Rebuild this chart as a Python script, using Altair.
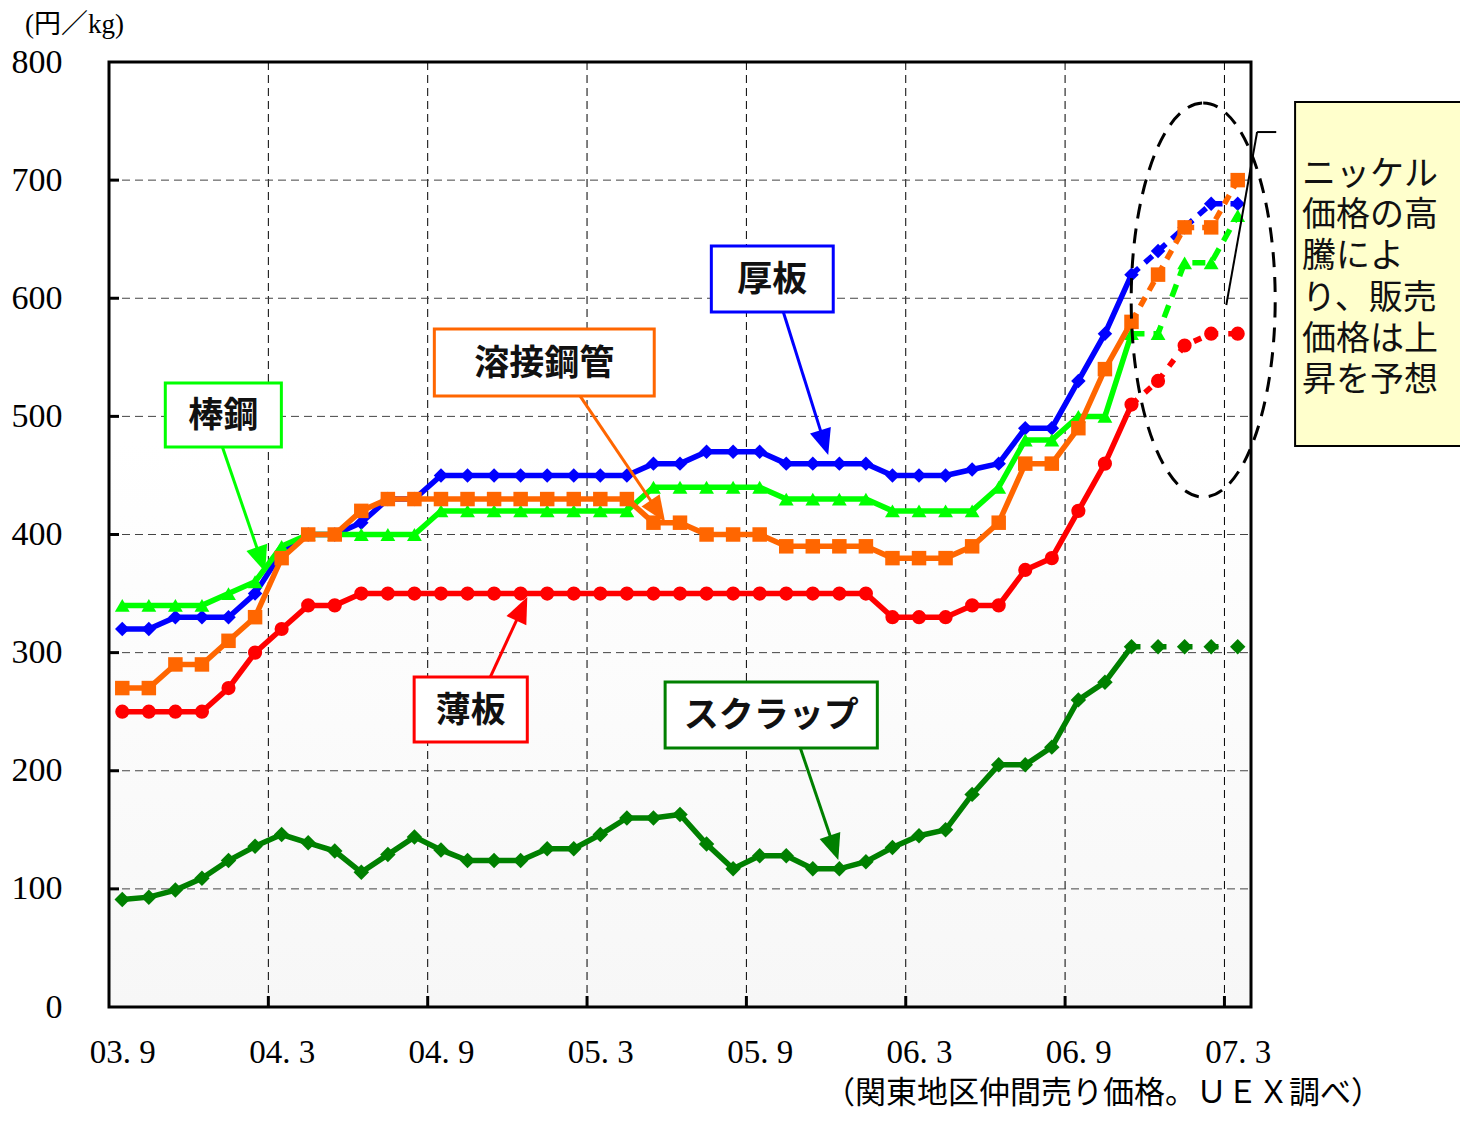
import math
import altair as alt
import pandas as pd

# ---------------- data ----------------
months = [p.strftime("%y.%m") for p in pd.period_range("2003-09", "2007-03", freq="M")]
tick_labels = ["03. 9", "04. 3", "04. 9", "05. 3", "05. 9", "06. 3", "06. 9", "07. 3"]
last_actual = "06.11"   # dashed (forecast) from here on

atsuita = [320, 320, 330, 330, 330, 350, 385, 400, 400, 410, 430, 430, 450, 450, 450, 450,
           450, 450, 450, 450, 460, 460, 470, 470, 470, 460, 460, 460, 460, 450, 450, 450,
           455, 460, 490, 490, 530, 570, 620, 640, 660, 680, 680]
yosetsu = [270, 270, 290, 290, 310, 330, 380, 400, 400, 420, 430, 430, 430, 430, 430, 430,
           430, 430, 430, 430, 410, 410, 400, 400, 400, 390, 390, 390, 390, 380, 380, 380,
           390, 410, 460, 460, 490, 540, 580, 620, 660, 660, 700]
bokou = [340, 340, 340, 340, 350, 360, 390, 400, 400, 400, 400, 400, 420, 420, 420, 420,
         420, 420, 420, 420, 440, 440, 440, 440, 440, 430, 430, 430, 430, 420, 420, 420,
         420, 440, 480, 480, 500, 500, 570, 570, 630, 630, 670]
usuita = [250, 250, 250, 250, 270, 300, 320, 340, 340, 350, 350, 350, 350, 350, 350, 350,
          350, 350, 350, 350, 350, 350, 350, 350, 350, 350, 350, 350, 350, 330, 330, 330,
          340, 340, 370, 380, 420, 460, 510, 530, 560, 570, 570]
scrap = [91, 93, 99, 109, 124, 136, 146, 139, 132, 114, 129, 144, 133, 124, 124, 124,
         134, 134, 146, 160, 160, 163, 138, 117, 128, 128, 117, 117, 123, 135, 145, 150,
         180, 205, 205, 220, 260, 275, 305, 305, 305, 305, 305]

series = {"厚板": atsuita, "溶接鋼管": yosetsu, "棒鋼": bokou, "薄板": usuita, "スクラップ": scrap}
draw_order = ["厚板", "棒鋼", "薄板", "スクラップ", "溶接鋼管"]

y_ticks = [0, 100, 200, 300, 400, 500, 600, 700, 800]
note_lines = ["ニッケル", "価格の高", "騰によ", "り、販売", "価格は上", "昇を予想"]
unit_text = "(円／kg)"
source_text = "（関東地区仲間売り価格。ＵＥＸ調べ）"

# ---------------- styles ----------------
colors = {"厚板": "#0000ff", "溶接鋼管": "#ff6600", "棒鋼": "#00ff00", "薄板": "#ff0000", "スクラップ": "#008000"}
shapes = {"厚板": "diamond", "溶接鋼管": "square", "棒鋼": "triangle-up", "薄板": "circle", "スクラップ": "diamond"}
sizes = {"厚板": 210, "溶接鋼管": 210, "棒鋼": 220, "薄板": 200, "スクラップ": 240}
dashes = {"厚板": [10, 8], "溶接鋼管": [10, 8], "棒鋼": [13, 9], "薄板": [8, 10], "スクラップ": [9, 17]}

W, H = 1142, 945
n = len(months)
X_SCALE = alt.Scale(domain=[-0.5, n - 0.5], nice=False, zero=False)
Y_SCALE = alt.Scale(domain=[0, 800], nice=False, zero=False)
px_x = W / n
px_y = H / 800.0
SERIF = "Liberation Serif, Noto Sans CJK JP"
GOTHIC = "Noto Sans CJK JP"

split = months.index(last_actual)
tick_idx = [i * 6 for i in range(len(tick_labels))]
label_js = "[" + ",".join("'" + t + "'" for t in tick_labels) + "]"

X_AXIS = alt.Axis(values=tick_idx, labelExpr=f"{label_js}[round(datum.value/6)]",
                  labelFont=SERIF, labelFontSize=33, labelColor="black",
                  labelPadding=29, ticks=False, tickSize=0, domain=False,
                  grid=False, labelFlush=False, labelOverlap=False, title=None)
Y_AXIS = alt.Axis(values=y_ticks, labelFont=SERIF, labelFontSize=34, labelColor="black",
                  labelPadding=47, ticks=False, tickSize=0, domain=False, grid=False,
                  labelFlush=False, labelOverlap=False, title=None)

def X(field="idx"):
    return alt.X(f"{field}:Q", scale=X_SCALE, axis=X_AXIS, title=None)

def Y(field="value"):
    return alt.Y(f"{field}:Q", scale=Y_SCALE, axis=Y_AXIS, title=None)

one = pd.DataFrame({"a": [0]})
layers = []

# background
layers.append(alt.Chart(one).mark_rect(
    fill=alt.Gradient(gradient="linear",
                      stops=[alt.GradientStop(color="#ffffff", offset=0),
                             alt.GradientStop(color="#ffffff", offset=0.4),
                             alt.GradientStop(color="#f7f7f7", offset=1)],
                      x1=0, x2=0, y1=0, y2=1)
).encode(x=alt.value(0), x2=alt.value(W), y=alt.value(0), y2=alt.value(H)))

# axes carrier
axis_df = pd.DataFrame({"idx": [0, n - 1], "value": [0, 800]})
layers.append(alt.Chart(axis_df).mark_point(opacity=0).encode(x=X(), y=Y()))

# grid lines
grid_df = pd.DataFrame({"g": [t - 0.5 for t in tick_idx[1:]]})
layers.append(alt.Chart(grid_df).mark_rule(color="black", strokeWidth=1, strokeDash=[8, 5]).encode(
    x=X("g"), y=alt.value(0), y2=alt.value(H)))
layers.append(alt.Chart(grid_df).mark_rule(color="black", strokeWidth=3).encode(
    x=X("g"), y=alt.value(H - 11), y2=alt.value(H)))
ygrid_df = pd.DataFrame({"v": y_ticks[1:-1]})
layers.append(alt.Chart(ygrid_df).mark_rule(color="#444444", strokeWidth=1, strokeDash=[8, 5]).encode(
    y=Y("v"), x=alt.value(0), x2=alt.value(W)))
layers.append(alt.Chart(ygrid_df).mark_rule(color="black", strokeWidth=3).encode(
    y=Y("v"), x=alt.value(0), x2=alt.value(10)))

# series
for name in draw_order:
    vals = series[name]
    df = pd.DataFrame({"idx": list(range(n)), "month": months, "value": vals})
    solid = df[df.idx <= split]
    dashed = df[df.idx >= split]
    c = colors[name]
    layers.append(alt.Chart(solid).mark_line(color=c, strokeWidth=5.5).encode(x=X(), y=Y()))
    layers.append(alt.Chart(dashed).mark_line(color=c, strokeWidth=5.5, strokeDash=dashes[name]).encode(x=X(), y=Y()))
    layers.append(alt.Chart(df).mark_point(filled=True, opacity=1, color=c, shape=shapes[name],
                                           size=sizes[name], strokeWidth=0).encode(x=X(), y=Y()))

# label boxes with arrows (positions in data coordinates: month index, 円/kg)
boxes = pd.DataFrame([
    dict(text="厚板", color="#0000ff", x1=22.18, x2=26.77, y1=588.4, y2=644.2, ax1=24.89, ay1=588.4, ax2=26.58, ay2=467.3),
    dict(text="溶接鋼管", color="#ff6600", x1=11.75, x2=20.03, y1=517.2, y2=574.0, ax1=17.24, ay1=517.2, ax2=20.44, ay2=410.6),
    dict(text="棒鋼", color="#00ff00", x1=1.62, x2=5.99, y1=474.1, y2=528.3, ax1=3.77, ay1=474.1, ax2=5.38, ay2=368.3),
    dict(text="薄板", color="#ff0000", x1=10.99, x2=15.25, y1=224.3, y2=279.4, ax1=13.86, ay1=279.4, ax2=15.25, ay2=347.1),
    dict(text="スクラップ", color="#008000", x1=20.44, x2=28.43, y1=219.3, y2=275.1, ax1=25.53, ay1=219.3, ax2=26.96, ay2=124.4),
])
HEAD = 26.0
ang, bx, by = [], [], []
for _, r in boxes.iterrows():
    dx = (r.ax2 - r.ax1) * px_x
    dy = -(r.ay2 - r.ay1) * px_y
    L = math.hypot(dx, dy)
    ang.append(math.degrees(math.atan2(dx, -dy)) % 360)
    bx.append(r.ax2 - dx / L * HEAD * 0.8 / px_x)
    by.append(r.ay2 + dy / L * HEAD * 0.8 / px_y)
boxes["angle"] = ang
boxes["bx"] = bx
boxes["by"] = by
boxes["tx"] = (boxes.x1 + boxes.x2) / 2
boxes["ty"] = (boxes.y1 + boxes.y2) / 2

layers.append(alt.Chart(boxes).mark_rule(strokeWidth=3).encode(
    x=X("ax1"), y=Y("ay1"), x2="bx:Q", y2="by:Q", color=alt.Color("color:N", scale=None)))
layers.append(alt.Chart(boxes).mark_point(shape="M0,0L0.42,1L-0.42,1Z", filled=True, opacity=1,
                                          size=(2 * HEAD) ** 2, strokeWidth=0).encode(
    x=X("ax2"), y=Y("ay2"), angle=alt.Angle("angle:Q", scale=None), color=alt.Color("color:N", scale=None)))
layers.append(alt.Chart(boxes).mark_rect(fill="white", strokeWidth=3).encode(
    x=X("x1"), x2="x2:Q", y=Y("y1"), y2="y2:Q", stroke=alt.Color("color:N", scale=None)))
layers.append(alt.Chart(boxes).mark_text(font=GOTHIC, fontSize=35, fontWeight="bold", color="#111111",
                                         align="center", baseline="middle", dy=1).encode(
    x=X("tx"), y=Y("ty"), text="text:N"))

# forecast ellipse and leader line
ell = pd.DataFrame({"idx": [40.70], "value": [598.5]})
ry = 197.0
rx = 72.0 / ry
ell_path = f"M0,-1A{rx:.4f},1,0,1,1,0,1A{rx:.4f},1,0,1,1,0,-1Z"
layers.append(alt.Chart(ell).mark_point(shape=ell_path, filled=False, opacity=1, color="black",
                                        strokeWidth=3, strokeDash=[15, 10], size=(2 * ry) ** 2).encode(
    x=X(), y=Y()))
lead = pd.DataFrame({"x1": [42.73, 42.73], "y1": [740.7, 740.7], "x2": [43.45, 41.57], "y2": [740.7, 594.3]})
layers.append(alt.Chart(lead).mark_rule(color="black", strokeWidth=2).encode(
    x=X("x1"), y=Y("y1"), x2="x2:Q", y2="y2:Q"))

# note box
note = pd.DataFrame({"x1": [44.16], "x2": [52.0], "y1": [474.9], "y2": [766.1], "tx": [44.42], "ty": [719.0]})
layers.append(alt.Chart(note).mark_rect(fill="#ffffcc", stroke="black", strokeWidth=2).encode(
    x=X("x1"), x2="x2:Q", y=Y("y1"), y2="y2:Q"))
layers.append(alt.Chart(note).mark_text(text=note_lines, font=GOTHIC, fontSize=34, lineHeight=41.3,
                                        align="left", baseline="top", color="#111111").encode(
    x=X("tx"), y=Y("ty")))

# frame
layers.append(alt.Chart(one).mark_rect(fillOpacity=0, stroke="black", strokeWidth=3).encode(
    x=alt.value(0), x2=alt.value(W), y=alt.value(0), y2=alt.value(H)))

# outside texts
layers.append(alt.Chart(one).mark_text(text=unit_text, font=SERIF, fontSize=27, align="left",
                                       baseline="middle", color="black").encode(
    x=alt.value(-84), y=alt.value(-37)))
layers.append(alt.Chart(one).mark_text(text=source_text, font=SERIF, fontSize=31, align="left",
                                       baseline="middle", color="black").encode(
    x=alt.value(715), y=alt.value(1032)))

chart = alt.layer(*layers).properties(
    width=W, height=H,
    autosize=alt.AutoSizeParams(type="none"),
    padding={"left": 101, "top": 54, "right": 209, "bottom": 106},
    background="white",
).configure_view(strokeWidth=0)

chart.save("out.html", embed_options={"renderer": "svg", "actions": False})
